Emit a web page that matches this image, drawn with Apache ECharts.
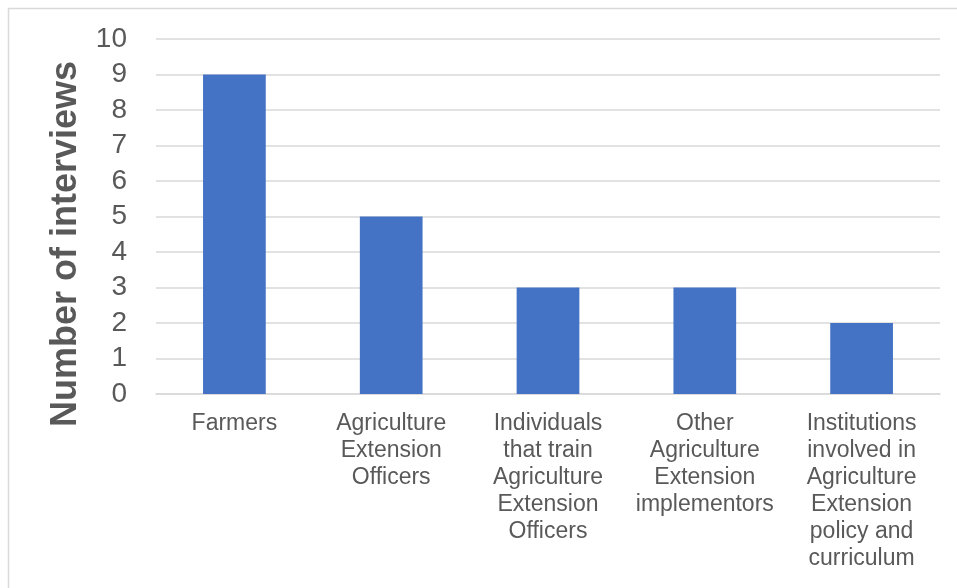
<!DOCTYPE html>
<html><head><meta charset="utf-8">
<script src="https://cdn.jsdelivr.net/npm/echarts@6/dist/echarts.min.js"></script>
<style>html,body{margin:0;padding:0;background:#fff}#c{width:957px;height:588px}</style>
</head><body><div id="c"></div>
<script>
const categories = ["Farmers", "Agriculture\nExtension\nOfficers", "Individuals\nthat train\nAgriculture\nExtension\nOfficers", "Other\nAgriculture\nExtension\nimplementors", "Institutions\ninvolved in\nAgriculture\nExtension\npolicy and\ncurriculum"];
const interviews = [9, 5, 3, 3, 2];
const yTicks = [0,1,2,3,4,5,6,7,8,9,10];
const axisTitle = 'Number of interviews';
const chart = echarts.init(document.getElementById('c'));
chart.setOption({
  animation: false,
  graphic: [
    {type:'rect', shape:{x:8.5,y:8.5,width:1000,height:1000}, style:{fill:'none', stroke:'#d9d9d9', lineWidth:1.5}},
    {type:'text', x:66, y:244, rotation:Math.PI/2, style:{text:axisTitle, fill:'#595959', fontSize:36, fontWeight:'bold', fontFamily:'Liberation Sans, Arial', align:'center', verticalAlign:'middle'}}
  ],
  grid: {left:156, right:17, top:39, bottom:194},
  xAxis: {
    type:'category', data: categories,
    axisLine:{lineStyle:{color:'#d9d9d9', width:1.5}},
    axisTick:{show:false},
    axisLabel:{color:'#595959', fontSize:23, fontFamily:'Liberation Sans, Arial', lineHeight:27, margin:16, interval:0}
  },
  yAxis: {
    type:'value', min:0, max:10, interval:1,
    axisLine:{show:false}, axisTick:{show:false},
    splitLine:{lineStyle:{color:'#d9d9d9', width:1.5}},
    axisLabel:{color:'#595959', fontSize:28, fontFamily:'Liberation Sans, Arial', margin:29,
      formatter: v => yTicks.includes(v) ? String(v) : ''}
  },
  series: [{type:'bar', data: interviews, barWidth:'40%', itemStyle:{color:'#4472C4'}}]
});
</script></body></html>
